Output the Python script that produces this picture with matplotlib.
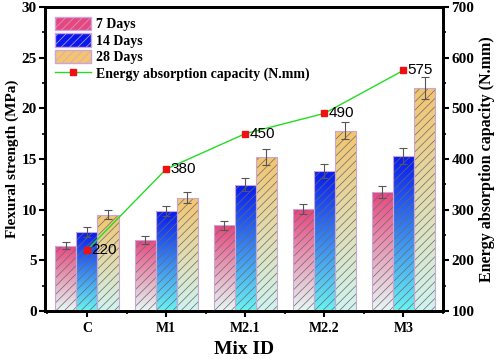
import numpy as np
import matplotlib
matplotlib.use("Agg")
import matplotlib.pyplot as plt
from matplotlib.colors import LinearSegmentedColormap
from matplotlib.patches import Patch
from matplotlib.lines import Line2D
from matplotlib.ticker import MultipleLocator

# data
mixes = ["C", "M1", "M2.1", "M2.2", "M3"]
days_7 = [6.45, 7.05, 8.45, 10.05, 11.75]
days_14 = [7.8, 9.85, 12.45, 13.85, 15.3]
days_28 = [9.5, 11.2, 15.2, 17.8, 22.0]
err_7 = [0.35, 0.4, 0.45, 0.5, 0.6]
err_14 = [0.45, 0.5, 0.65, 0.7, 0.8]
err_28 = [0.45, 0.55, 0.75, 0.85, 1.1]
energy = [220, 380, 450, 490, 575]

series_names = ["7 Days", "14 Days", "28 Days"]
# top colour, bottom colour of each gradient
grad_cols = [("#e8467e", "#e6f8f6"), ("#0818ee", "#6af4f2"), ("#f4c46e", "#cff4f2")]

plt.rcParams['hatch.linewidth'] = 0.5
serif = "Liberation Serif"

fig = plt.figure(figsize=(4.98, 3.61), dpi=100)
ax = fig.add_axes([0.0904, 0.1385, 0.7992, 0.8421])

x = np.arange(len(mixes))
w = 0.266
offsets = [-w, 0, w]
all_vals = [days_7, days_14, days_28]
all_err = [err_7, err_14, err_28]

for vals, errs, off, (ctop, cbot) in zip(all_vals, all_err, offsets, grad_cols):
    cmap = LinearSegmentedColormap.from_list("g", [cbot, ctop])
    grad = np.linspace(0, 1, 256).reshape(-1, 1)
    bars = ax.bar(x + off, vals, width=w, color="none", edgecolor="#6a6a6a",
                  hatch="////", linewidth=0, zorder=3)
    for b, v in zip(bars, vals):
        im = ax.imshow(grad, cmap=cmap, origin="lower", aspect="auto",
                       extent=[b.get_x(), b.get_x() + w, 0, v], zorder=2)
        im.set_clip_path(b)
    ax.bar(x + off, vals, width=w, color="none", edgecolor="#c9a6d6",
           linewidth=0.8, zorder=4)
    ax.errorbar(x + off, vals, yerr=errs, fmt="none", ecolor="#555555",
                elinewidth=0.8, capsize=3, capthick=0.8, zorder=5)

ax.set_xlim(-0.53, 4.5)
ax.set_ylim(0, 30)
ax.set_xticks(x)
ax.set_xticklabels(mixes)
ax.xaxis.set_minor_locator(MultipleLocator(0.5))
ax.yaxis.set_major_locator(MultipleLocator(5))
ax.yaxis.set_minor_locator(MultipleLocator(2.5))
ax.set_ylabel("Flexural strength (MPa)", fontfamily=serif, fontweight="bold",
              fontsize=11, labelpad=2)
ax.set_xlabel("Mix ID", fontfamily=serif, fontweight="bold", fontsize=14)

ax2 = ax.twinx()
ax2.plot(x, energy, color="#22dd22", lw=1, zorder=6)
ax2.plot(x, energy, ls="none", marker="s", ms=5, color="#ee1111", zorder=7)
for xi, e in zip(x, energy):
    ax2.text(xi + 0.05, e, str(e), fontfamily="Liberation Sans", fontsize=11,
             va="center", ha="left", zorder=8)
ax2.set_ylim(100, 700)
ax2.yaxis.set_major_locator(MultipleLocator(100))
ax2.yaxis.set_minor_locator(MultipleLocator(50))
ax2.set_ylabel("Energy absorption capacity (N.mm)", fontfamily=serif,
               fontweight="bold", fontsize=11.5, labelpad=3)

for a in (ax, ax2):
    for s in a.spines.values():
        s.set_linewidth(2)
    a.tick_params(which="major", length=4, width=1.5, direction="out", pad=2)
    a.tick_params(which="minor", length=2, width=1.2, direction="out")
    for lab in a.get_xticklabels() + a.get_yticklabels():
        lab.set_fontfamily(serif)
        lab.set_fontweight("bold")
        lab.set_fontsize(11)
ax2.tick_params(axis="x", which="both", bottom=False, top=False)
ax.tick_params(axis="x", which="major", labelsize=10, pad=4)

handles = [Patch(facecolor=ct, edgecolor="#c9a6d6", hatch="////", label=n)
           for n, (ct, cb) in zip(series_names, grad_cols)]
handles.append(Line2D([0], [0], color="#22dd22", lw=1, marker="s", ms=5,
                      markerfacecolor="#ee1111", markeredgecolor="#ee1111",
                      label="Energy absorption capacity (N.mm)"))
ax.legend(handles=handles, loc="upper left", frameon=False,
          prop={"family": serif, "weight": "bold", "size": 10},
          handlelength=2.6, handleheight=1.1, labelspacing=0.15,
          borderaxespad=0.3, handletextpad=0.4)

fig.savefig("out.png", dpi=100)
